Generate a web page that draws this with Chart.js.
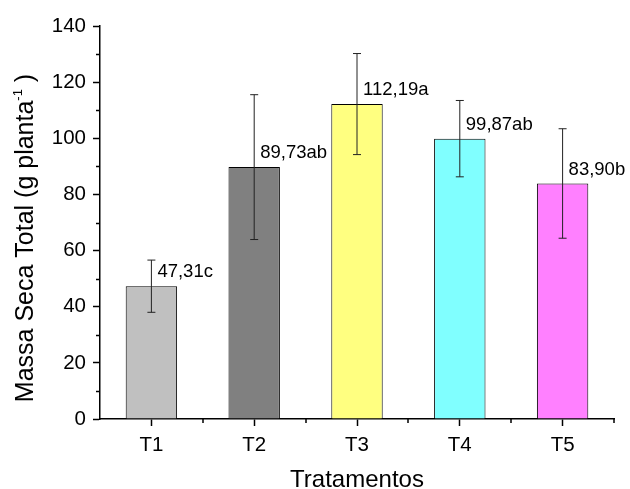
<!DOCTYPE html>
<html>
<head>
<meta charset="utf-8">
<script src="https://cdn.jsdelivr.net/npm/chart.js@4"></script>
<style>
  html, body { margin: 0; padding: 0; background: #fff; }
  #wrap { width: 630px; height: 489px; }
</style>
</head>
<body>
<div id="wrap"><canvas id="myChart"></canvas></div>
<script>
// Data
const categories = ['T1', 'T2', 'T3', 'T4', 'T5'];
const means = [47.31, 89.73, 112.19, 99.87, 83.90];
const errors = [9.3, 25.8, 18.0, 13.6, 19.5];
const letters = ['47,31c', '89,73ab', '112,19a', '99,87ab', '83,90b'];
const barColors = ['#c0c0c0', '#808080', '#ffff80', '#80ffff', '#ff80ff'];
const yTicks = [0, 20, 40, 60, 80, 100, 120, 140];

const FONT = 'Arial, "Liberation Sans", sans-serif';

// error bars + value labels over each bar
const errorBars = {
    id: 'errorBars',
    afterDatasetsDraw(chart) {
        const ctx = chart.ctx;
        const y = chart.scales.y;
        const meta = chart.getDatasetMeta(0);
        ctx.save();
        meta.data.forEach((bar, i) => {
            const x = bar.x;
            const top = y.getPixelForValue(means[i] + errors[i]);
            const bot = y.getPixelForValue(means[i] - errors[i]);
            ctx.strokeStyle = '#222';
            ctx.lineWidth = 1;
            ctx.beginPath();
            ctx.moveTo(x, top); ctx.lineTo(x, bot);
            ctx.moveTo(x - 4, top); ctx.lineTo(x + 4, top);
            ctx.moveTo(x - 4, bot); ctx.lineTo(x + 4, bot);
            ctx.stroke();

            ctx.fillStyle = '#000';
            ctx.font = '18.5px ' + FONT;
            ctx.textAlign = 'left';
            ctx.textBaseline = 'middle';
            ctx.fillText(letters[i], x + 6, bar.y - 14);
        });
        ctx.restore();
    }
};

// minor ticks on both axes + y title with superscript
const minorTicks = {
    id: 'minorTicks',
    afterDraw(chart) {
        const ctx = chart.ctx;
        const x = chart.scales.x;
        const y = chart.scales.y;
        const area = chart.chartArea;
        ctx.save();
        ctx.strokeStyle = '#000';
        ctx.lineWidth = 1.5;
        ctx.beginPath();
        for (let v = 10; v < 140; v += 20) {
            const py = Math.round(y.getPixelForValue(v)) + 0.5;
            ctx.moveTo(area.left, py); ctx.lineTo(area.left - 4, py);
        }
        const step = x.getPixelForValue(1) - x.getPixelForValue(0);
        for (let i = 0; i < categories.length; i++) {
            const px = Math.round(x.getPixelForValue(i) + step / 2);
            ctx.moveTo(px, area.bottom); ctx.lineTo(px, area.bottom + 4);
        }
        ctx.stroke();

        // y title
        const main = 'Massa Seca Total (g planta';
        const sup = '-1';
        const tail = ' )';
        ctx.fillStyle = '#000';
        ctx.textBaseline = 'alphabetic';
        ctx.textAlign = 'left';
        ctx.font = '25px ' + FONT;
        const w1 = ctx.measureText(main).width;
        const w3 = ctx.measureText(tail).width;
        ctx.font = '13px ' + FONT;
        const w2 = ctx.measureText(sup).width;
        const total = w1 + w2 + w3;
        ctx.translate(33, 238);
        ctx.rotate(-Math.PI / 2);
        let cx = -total / 2;
        ctx.font = '25px ' + FONT;
        ctx.fillText(main, cx, 0);
        cx += w1;
        ctx.font = '13px ' + FONT;
        ctx.fillText(sup, cx, -11);
        cx += w2;
        ctx.font = '25px ' + FONT;
        ctx.fillText(tail, cx, 0);
        ctx.restore();
    }
};

const config = {
    type: 'bar',
    data: {
        labels: categories,
        datasets: [{
            data: means,
            backgroundColor: barColors,
            borderColor: '#000',
            borderWidth: 1,
            barPercentage: 0.5,
            categoryPercentage: 1.0
        }]
    },
    options: {
        responsive: true,
        maintainAspectRatio: false,
        animation: false,
        layout: { padding: { top: 26, right: 16, left: 0, bottom: 0 } },
        plugins: {
            legend: { display: false },
            tooltip: { enabled: false }
        },
        scales: {
            x: {
                offset: true,
                grid: {
                    offset: false,
                    drawOnChartArea: false,
                    color: '#000',
                    tickLength: 7,
                    tickWidth: 1.5
                },
                border: { display: true, color: '#000', width: 1.5 },
                ticks: {
                    color: '#000',
                    padding: 7,
                    font: { family: FONT, size: 20.5 }
                },
                title: {
                    display: true,
                    text: 'Tratamentos',
                    color: '#000',
                    padding: { top: 0, bottom: -6 },
                    font: { family: FONT, size: 24 }
                },
                afterFit(scale) { scale.height = 70; }
            },
            y: {
                min: 0,
                max: 140,
                afterBuildTicks(scale) {
                    scale.ticks = yTicks.map(v => ({ value: v }));
                },
                grid: {
                    drawOnChartArea: false,
                    color: '#000',
                    tickLength: 7,
                    tickWidth: 1.5
                },
                border: { display: true, color: '#000', width: 1.5 },
                ticks: {
                    color: '#000',
                    padding: 7,
                    font: { family: FONT, size: 20.5 }
                },
                title: { display: false },
                afterFit(scale) { scale.width = 100; }
            }
        }
    },
    plugins: [errorBars, minorTicks]
};

var myChart = new Chart(document.getElementById('myChart'), config);
</script>
</body>
</html>
